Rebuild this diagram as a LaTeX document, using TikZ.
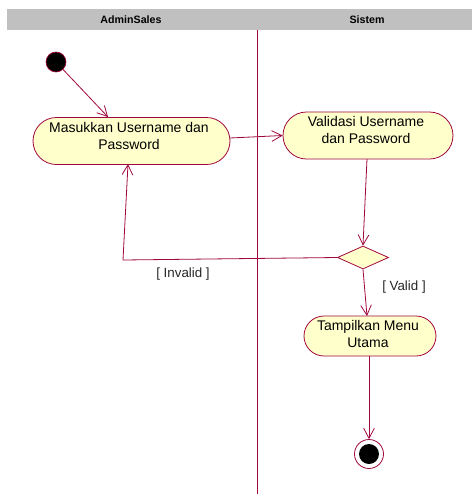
\documentclass[tikz,border=0pt]{standalone}
\usepackage{fontspec}
\setmainfont{Liberation Sans}
\usetikzlibrary{arrows.meta,shapes.geometric,shapes.misc}
\definecolor{umlline}{HTML}{A0073F}
\definecolor{umlfill}{HTML}{FFFFCC}
\definecolor{lanegray}{HTML}{C0C0C0}
\begin{document}
\begin{tikzpicture}[x=0.75pt,y=-0.75pt,
  action/.style={rounded rectangle, draw=umlline, fill=umlfill, line width=0.6pt,
    inner sep=0pt},
  actiontext/.style={align=center, inner sep=0pt, font=\fontsize{10.5}{12.8}\selectfont},
  decision/.style={diamond, draw=umlline, fill=umlfill, line width=0.6pt,
    minimum width=51*0.75pt, minimum height=23*0.75pt, inner sep=0pt, aspect=2.2},
  flow/.style={draw=umlline, line width=0.6pt, -{Straight Barb[length=7.5pt,width=8pt]}},
  guard/.style={font=\fontsize{10}{12}\selectfont, text=black!85},
  lanetitle/.style={font=\bfseries\fontsize{8}{10}\selectfont}]
\useasboundingbox (0,0) rectangle (472,494);
% swimlane header
\fill[lanegray] (7,9) rectangle (472,30);
\node[lanetitle] (laneA) at (131,19.5) {AdminSales};
\node[lanetitle] (laneB) at (367,19.5) {Sistem};
\coordinate (divtop) at (257,30);
\coordinate (divbot) at (257,494);
\draw[umlline, line width=0.6pt] (divtop) -- (divbot);
% nodes
\node[circle, fill=black, draw=umlline, line width=0.5pt, minimum size=20*0.75pt, inner sep=0pt] (start) at (56,62) {};
\node[action, minimum width=197*0.75pt, minimum height=47*0.75pt] (masuk) at (131.5,141) {};
\node[actiontext] (masukT) at (129,136) {Masukkan Username dan\\Password};
\node[action, minimum width=170*0.75pt, minimum height=47*0.75pt] (valid) at (368,135.5) {};
\node[actiontext] (validT) at (366,130) {Validasi Username\\dan Password};
\node[decision] (dec) at (363,257.5) {};
\node[action, minimum width=132*0.75pt, minimum height=40*0.75pt] (menu) at (370,336) {};
\node[actiontext] (menuT) at (368,334) {Tampilkan Menu\\Utama};
\node[circle, draw=umlline, fill=white, line width=0.6pt, minimum size=29*0.75pt, inner sep=0pt] (end) at (369,454) {};
\node[circle, fill=black, minimum size=20*0.75pt, inner sep=0pt] (endin) at (369,454) {};
% connectors
\coordinate (m1) at (108,117);
\draw[flow] (start) -- (m1);
\coordinate (mr) at (230,138);
\draw[flow] (mr) -- (valid.west);
\coordinate (vb) at (367,159);
\draw[flow] (vb) -- (dec.north);
\coordinate (corner) at (123,260);
\coordinate (mb) at (128,164);
\draw[flow] (dec.west) -- (corner) -- (mb);
\coordinate (mt) at (367,316);
\draw[flow] (dec.south) -- (mt);
\coordinate (mbot) at (369,356);
\draw[flow] (mbot) -- (end.north);
% guards
\node[guard] (ginv) at (183,274) {[ Invalid ]};
\node[guard] (gval) at (404,287) {[ Valid ]};
\end{tikzpicture}
\end{document}
